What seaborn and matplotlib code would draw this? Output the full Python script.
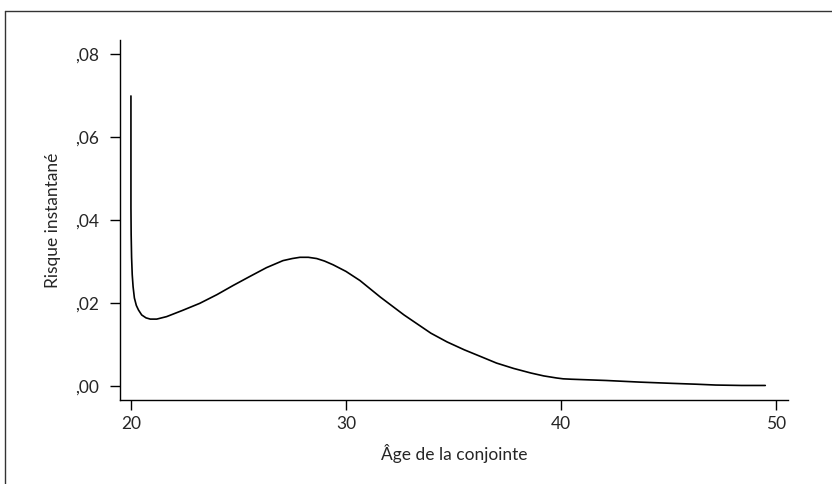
import numpy as np
import pandas as pd
import matplotlib
matplotlib.use("Agg")
import matplotlib.pyplot as plt
import seaborn as sns
from matplotlib.lines import Line2D
from matplotlib.ticker import FuncFormatter

# courbe (age, risque)
age = [20.0, 20.0, 20.0, 20.0, 20.01, 20.03, 20.06, 20.1, 20.16, 20.25, 20.35,
       20.5, 20.7, 20.9, 21.2, 21.66, 22.4, 23.2, 24.0, 24.75, 25.5, 26.3,
       27.07, 27.5, 27.86, 28.25, 28.64, 29.0, 29.4, 30.0, 30.65, 31.6, 32.7,
       33.95, 34.7, 35.5, 36.3, 37.0, 37.8, 38.6, 39.2, 39.8, 40.1, 40.5,
       42.1, 43.7, 45.2, 46.3, 47.2, 48.4, 49.5]
risque = [0.0699, 0.062, 0.052, 0.043, 0.0365, 0.031, 0.0268, 0.0239, 0.0212,
          0.0194, 0.0183, 0.0171, 0.0164, 0.0161, 0.0161, 0.0167, 0.0182,
          0.0199, 0.0220, 0.0242, 0.0263, 0.0285, 0.0302, 0.0307, 0.0310,
          0.0310, 0.0307, 0.0301, 0.0292, 0.0276, 0.0254, 0.0214, 0.0171,
          0.0127, 0.0106, 0.0087, 0.0070, 0.0055, 0.0042, 0.0031, 0.0024,
          0.0019, 0.0017, 0.0016, 0.0013, 0.0009, 0.0006, 0.0004, 0.0002,
          0.0001, 0.0001]

xticks = [20, 30, 40, 50]
yticks = [0.0, 0.02, 0.04, 0.06, 0.08]

df = pd.DataFrame({"age": age, "risque": risque})

sns.set_theme(style="ticks")
plt.rcParams["font.family"] = ["Lato", "DejaVu Sans"]

fig = plt.figure(figsize=(8.32, 4.84), dpi=100)
ax = fig.add_axes([0.1442, 0.1736, 0.803, 0.7438])

sns.lineplot(data=df, x="age", y="risque", ax=ax, color="black",
             linewidth=1.2, sort=False, estimator=None)

ax.set_xlim(19.49, 50.56)
ax.set_ylim(-0.0034, 0.0834)
ax.set_xticks(xticks)
ax.set_yticks(yticks)
ax.yaxis.set_major_formatter(FuncFormatter(lambda v, p: ("%.2f" % v).replace("0.", ",")))

for s in ["top", "right"]:
    ax.spines[s].set_visible(False)
for s in ["left", "bottom"]:
    ax.spines[s].set_color("black")
    ax.spines[s].set_linewidth(1.0)

ax.tick_params(axis="y", length=7.2, width=1.0, color="black", pad=8, labelsize=12.5)
ax.tick_params(axis="x", length=7.2, width=1.0, color="black", pad=4, labelsize=12.5)
ax.set_xlabel("Âge de la conjointe", fontsize=12.5, labelpad=9)
ax.set_ylabel("Risque instantané", fontsize=12.5, labelpad=10)

# cadre de la figure
fig.add_artist(Line2D([5 / 832, 1], [1 - 11 / 484, 1 - 11 / 484],
                      transform=fig.transFigure, color="#333333", lw=1.0))
fig.add_artist(Line2D([5 / 832, 5 / 832], [0, 1 - 11 / 484],
                      transform=fig.transFigure, color="#333333", lw=1.0))

fig.savefig("out.png", dpi=100)
